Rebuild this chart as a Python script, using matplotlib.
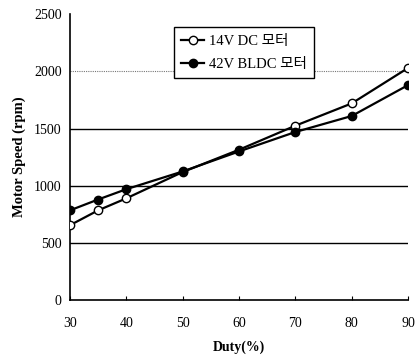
import matplotlib
matplotlib.use("Agg")
import matplotlib.pyplot as plt

duty = [30, 35, 40, 50, 60, 70, 80, 90]
dc_speed = [655, 785, 890, 1120, 1315, 1525, 1720, 2030]
bldc_speed = [785, 880, 970, 1125, 1300, 1470, 1610, 1880]
x_ticks = [30, 40, 50, 60, 70, 80, 90]
y_ticks = [0, 500, 1000, 1500, 2000, 2500]
labels = ["14V DC 모터", "42V BLDC 모터"]

fam = ["Liberation Serif", "Noto Sans CJK KR", "DejaVu Sans"]
plt.rcParams["font.family"] = fam

fig = plt.figure(figsize=(4.16, 3.63), dpi=100)
ax = fig.add_axes([0.168, 0.173, 0.813, 0.788])

for y in [500, 1000, 1500]:
    ax.axhline(y, color="black", lw=1.0, zorder=1)
ax.axhline(2000, color="#777777", lw=0.8, ls=(0, (1, 1)), zorder=1)

ax.plot(duty, dc_speed, color="black", lw=1.6, marker="o", ms=6,
        mfc="white", mec="black", mew=1.0, label=labels[0], zorder=3)
ax.plot(duty, bldc_speed, color="black", lw=1.6, marker="o", ms=6,
        mfc="black", mec="black", label=labels[1], zorder=3)

ax.set_xlim(30, 90)
ax.set_ylim(0, 2500)
ax.set_xticks(x_ticks)
ax.set_yticks(y_ticks)
ax.tick_params(axis="x", direction="in", length=3, width=0.8, labelsize=10, pad=12)
ax.tick_params(axis="y", length=0, labelsize=10, pad=6)
ax.spines["top"].set_visible(False)
ax.spines["right"].set_visible(False)
ax.spines["left"].set_linewidth(1.2)
ax.spines["bottom"].set_linewidth(1.2)

ax.set_xlabel("Duty(%)", fontsize=10, fontweight="bold", labelpad=8)
ax.set_ylabel("Motor Speed (rpm)", fontsize=10.5, fontweight="bold", labelpad=6)

leg = ax.legend(loc="upper left", bbox_to_anchor=(0.285, 0.98), frameon=True,
                fancybox=False, edgecolor="black", framealpha=1, fontsize=10.5,
                handlelength=1.6, handletextpad=0.3, borderpad=0.5, labelspacing=0.7)
leg.get_frame().set_linewidth(1.0)

fig.savefig("out.png", dpi=100)
